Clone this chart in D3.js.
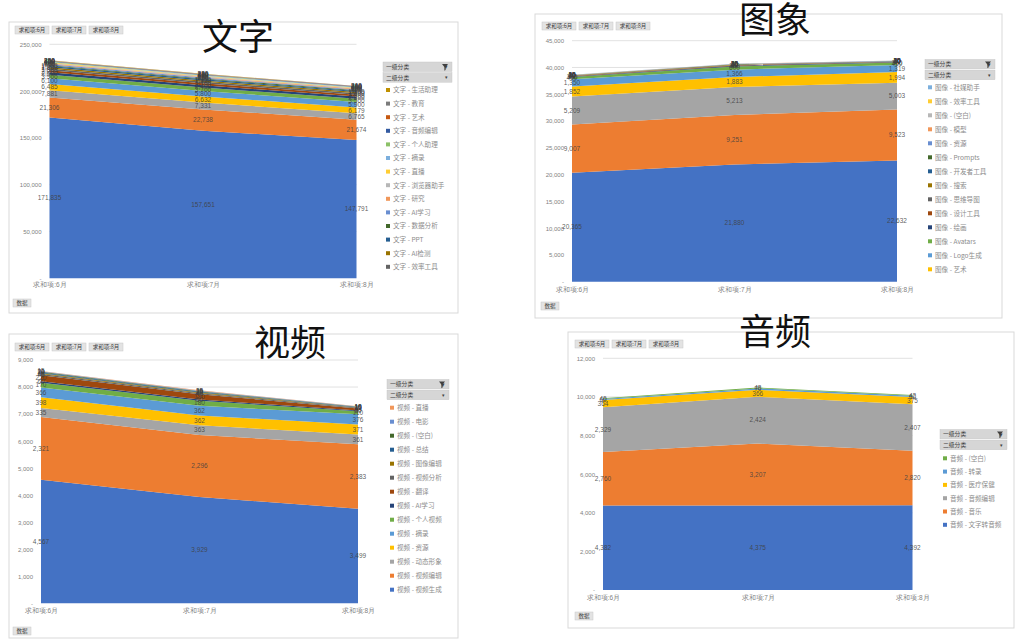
<!DOCTYPE html>
<html><head><meta charset="utf-8">
<script src="https://cdn.jsdelivr.net/npm/d3@7"></script>
<style>
html,body{margin:0;padding:0;background:#fff;}
svg{display:block;font-family:"Noto Sans CJK SC","Noto Sans",sans-serif;}
</style></head>
<body>
<svg id="c" width="1024" height="639"></svg>
<script>
// ---------- DATA ----------
const months = ["求和项:6月", "求和项:7月", "求和项:8月"];

// 文字 (bottom of stack first); only the top 14 are visible in the legend
const textNames = ["文字 - s1", "文字 - s2", "文字 - s3", "文字 - s4", "文字 - s5", "文字 - s6", "文字 - s7", "文字 - s8",
  "文字 - 效率工具", "文字 - AI检测", "文字 - PPT", "文字 - 数据分析", "文字 - AI学习", "文字 - 研究",
  "文字 - 浏览器助手", "文字 - 直播", "文字 - 摘录", "文字 - 个人助理", "文字 - 音频编辑", "文字 - 艺术",
  "文字 - 教育", "文字 - 生活助理"];
const textValues = [
  [171835, 157651, 147791], [21306, 22738, 21674], [7881, 7331, 6765], [6485, 6632, 6179],
  [6100, 5800, 5900], [3900, 3700, 3500], [2500, 2400, 2300], [2200, 2100, 2000],
  [1800, 1700, 1600], [1500, 1400, 1300], [1200, 1150, 1100], [1000, 950, 900],
  [900, 850, 800], [800, 750, 700], [700, 650, 600], [600, 550, 500],
  [500, 480, 450], [450, 420, 400], [400, 380, 350], [350, 330, 300],
  [300, 280, 260], [250, 230, 210]];

// 图象
const imageNames = ["图像 - s1", "图像 - s2", "图像 - s3", "图像 - 艺术", "图像 - Logo生成", "图像 - Avatars",
  "图像 - 绘画", "图像 - 设计工具", "图像 - 思维导图", "图像 - 搜索", "图像 - 开发者工具", "图像 - Prompts",
  "图像 - 资源", "图像 - 模型", "图像 - (空白)", "图像 - 效率工具", "图像 - 社媒助手"];
const imageValues = [
  [20365, 21880, 22632], [9007, 9251, 9523], [5209, 5213, 5003], [1852, 1883, 1994],
  [1350, 1366, 1319], [450, 600, 450], [100, 150, 100], [60, 80, 60], [50, 60, 50],
  [40, 50, 40], [30, 40, 30], [30, 35, 30], [25, 30, 25], [20, 25, 20], [15, 20, 15],
  [10, 15, 10], [10, 10, 10]];

// 视频
const videoNames = ["视频 - 视频生成", "视频 - 视频编辑", "视频 - 动态形象", "视频 - 资源", "视频 - 摘录",
  "视频 - 个人视频", "视频 - AI学习", "视频 - 翻译", "视频 - 视频分析", "视频 - 图像编辑", "视频 - 总结",
  "视频 - (空白)", "视频 - 电影", "视频 - 直播"];
const videoValues = [
  [4567, 3929, 3499], [2321, 2296, 2383], [335, 363, 361], [398, 362, 371], [366, 362, 376],
  [170, 180, 110], [60, 50, 30], [220, 190, 80], [45, 40, 20], [30, 30, 15], [30, 25, 15],
  [20, 20, 10], [20, 20, 10], [15, 15, 10]];

// 音频
const audioNames = ["音频 - 文字转音频", "音频 - 音乐", "音频 - 音频编辑", "音频 - 医疗保健", "音频 - 转录", "音频 - (空白)"];
const audioValues = [[4382, 4375, 4392], [2760, 3207, 2820], [2329, 2424, 2407], [364, 366, 375], [60, 70, 60], [40, 48, 42]];

const yTicksText = [0, 50000, 100000, 150000, 200000, 250000];
const yTicksImage = [0, 5000, 10000, 15000, 20000, 25000, 30000, 35000, 40000, 45000];
const yTicksVideo = [0, 1000, 2000, 3000, 4000, 5000, 6000, 7000, 8000, 9000];
const yTicksAudio = [0, 2000, 4000, 6000, 8000, 10000, 12000];

// ---------- STYLE / LAYOUT ----------
const palette = ["#4472C4", "#ED7D31", "#A5A5A5", "#FFC000", "#5B9BD5", "#70AD47",
  "#264478", "#9E480E", "#636363", "#997300", "#255E91", "#43682B",
  "#698ED0", "#F1975A", "#B7B7B7", "#FFCD33", "#7CAFDD", "#8CC168",
  "#335AA1", "#C65911", "#7B7B7B", "#BF9000", "#327DC2", "#5A8A39"];

const panels = [
  {title: "文字", tx: 238, ty: 50, frame: [9, 22, 449, 291], names: textNames, values: textValues, ticks: yTicksText,
   x0: 49.5, x1: 356.5, yb: 278.3, yt: 44.3, xLabY: 290, btn: [15, 26], dataBtn: [13, 299],
   leg: [383, 62, 69], legStart: 90, legStep: 13.6, legCount: 14},
  {title: "图象", tx: 775, ty: 33, frame: [535, 14, 467, 304], names: imageNames, values: imageValues, ticks: yTicksImage,
   x0: 572, x1: 897, yb: 281.7, yt: 40.7, xLabY: 295, btn: [542, 22], dataBtn: [541, 302],
   leg: [925, 59.5, 70], legStart: 87.3, legStep: 14, legCount: 14},
  {title: "视频", tx: 290, ty: 356, frame: [9, 334, 449, 304], names: videoNames, values: videoValues, ticks: yTicksVideo,
   x0: 41, x1: 358, yb: 603.3, yt: 360, xLabY: 616, btn: [15, 343], dataBtn: [13, 627],
   leg: [387, 379.5, 62], legStart: 407.7, legStep: 14, legCount: 14},
  {title: "音频", tx: 775, ty: 345, frame: [568, 332, 446, 296], names: audioNames, values: audioValues, ticks: yTicksAudio,
   x0: 603, x1: 912.5, yb: 590, yt: 358.3, xLabY: 603, btn: [575, 340], dataBtn: [575, 612],
   leg: [940, 429.5, 67], legStart: 458.3, legStep: 13.3, legCount: 6}
];

const svg = d3.select("#c");
const fmt = d3.format(",");

function drawPanel(p) {
  const g = svg.append("g");
  // frame
  g.append("rect").attr("x", p.frame[0]).attr("y", p.frame[1]).attr("width", p.frame[2]).attr("height", p.frame[3])
    .attr("fill", "#fff").attr("stroke", "#d9d9d9").attr("stroke-width", 1);

  const n = p.names.length;
  const rows = months.map((m, i) => {
    const r = {month: m};
    p.values.forEach((v, k) => r[k] = v[i]);
    return r;
  });
  const keys = d3.range(n);
  const stacked = d3.stack().keys(keys)(rows);

  const x = d3.scalePoint().domain(months).range([p.x0, p.x1]);
  const yMax = p.ticks[p.ticks.length - 1];
  const y = d3.scaleLinear().domain([0, yMax]).range([p.yb, p.yt]);

  // gridlines
  g.append("g").selectAll("line").data(p.ticks.filter(t => t > 0)).join("line")
    .attr("x1", p.x0).attr("x2", p.x1).attr("y1", d => y(d)).attr("y2", d => y(d))
    .attr("stroke", "#d9d9d9").attr("stroke-width", 0.8);

  // y axis labels
  const yAxis = d3.axisLeft(y).tickValues(p.ticks).tickSize(0).tickPadding(8)
    .tickFormat(d => d === 0 ? "-" : fmt(d));
  const ya = g.append("g").attr("transform", `translate(${p.x0},0)`).call(yAxis);
  ya.select(".domain").remove();
  ya.selectAll("text").attr("font-size", 6).attr("fill", "#7f7f7f").attr("font-family", "Liberation Sans, sans-serif");

  // x axis labels
  const xAxis = d3.axisBottom(x).tickSize(0).tickPadding(0);
  const xa = g.append("g").attr("transform", `translate(0,${p.xLabY - 6})`).call(xAxis);
  xa.select(".domain").remove();
  xa.selectAll("text").attr("font-size", 6.5).attr("fill", "#7f7f7f").attr("dy", "0.5em");

  // areas
  const area = d3.area().x(d => x(d.data.month)).y0(d => y(d[0])).y1(d => y(d[1]));
  g.append("g").selectAll("path").data(stacked).join("path")
    .attr("d", area).attr("fill", (d, i) => palette[i % palette.length]);

  // data labels
  const lab = g.append("g").attr("font-size", 6.5).attr("fill", "#404040").attr("text-anchor", "middle")
    .attr("font-family", "Liberation Sans, sans-serif");
  stacked.forEach((s) => {
    s.forEach(d => {
      lab.append("text").attr("x", x(d.data.month)).attr("y", (y(d[0]) + y(d[1])) / 2).attr("dy", "0.35em")
        .attr("fill-opacity", 0.85).text(fmt(d[1] - d[0]));
    });
  });

  // field buttons
  const bw = 34, bh = 8;
  months.forEach((m, i) => {
    const bx = p.btn[0] + i * (bw + 3);
    g.append("rect").attr("x", bx).attr("y", p.btn[1]).attr("width", bw).attr("height", bh)
      .attr("fill", "#e3e3e3").attr("stroke", "#c8c8c8").attr("stroke-width", 0.5);
    g.append("text").attr("x", bx + bw / 2).attr("y", p.btn[1] + bh / 2).attr("dy", "0.35em")
      .attr("text-anchor", "middle").attr("font-size", 5.5).attr("fill", "#404040").text(m);
  });
  g.append("rect").attr("x", p.dataBtn[0]).attr("y", p.dataBtn[1]).attr("width", 18).attr("height", 8)
    .attr("fill", "#e3e3e3").attr("stroke", "#c8c8c8").attr("stroke-width", 0.5);
  g.append("text").attr("x", p.dataBtn[0] + 9).attr("y", p.dataBtn[1] + 4).attr("dy", "0.35em")
    .attr("text-anchor", "middle").attr("font-size", 5.5).attr("fill", "#404040").text("数据");

  // legend headers
  const [lx, ly, lw] = p.leg;
  ["一级分类", "二级分类"].forEach((h, i) => {
    const hy = ly + i * 10.7;
    g.append("rect").attr("x", lx).attr("y", hy).attr("width", lw).attr("height", 9.5)
      .attr("fill", "#d6d6d6").attr("stroke", "#c0c0c0").attr("stroke-width", 0.4);
    g.append("text").attr("x", lx + 3).attr("y", hy + 4.9).attr("dy", "0.35em")
      .attr("font-size", 5.8).attr("fill", "#404040").text(h);
    g.append("text").attr("x", lx + lw - 4).attr("y", hy + 4.9).attr("dy", "0.35em").attr("text-anchor", "end")
      .attr("font-size", i === 0 ? 7 : 5).attr("fill", "#404040").text("▾");
  });
  // filter icon on first header
  g.append("path").attr("d", `M${lx + lw - 10},${ly + 2} h6 l-2.4,3 v3 l-1.2,0.8 v-3.8 z`).attr("fill", "#404040");

  // legend items (top of stack first)
  const items = d3.range(n - 1, n - 1 - p.legCount, -1);
  items.forEach((k, j) => {
    const iy = p.legStart + j * p.legStep;
    g.append("rect").attr("x", lx + 3).attr("y", iy - 2).attr("width", 4).attr("height", 4)
      .attr("fill", palette[k % palette.length]);
    g.append("text").attr("x", lx + 10).attr("y", iy).attr("dy", "0.35em")
      .attr("font-size", 6.6).attr("fill", "#8c8c8c").text(p.names[k]);
  });

  // title
  svg.append("text").attr("x", p.tx).attr("y", p.ty).attr("text-anchor", "middle")
    .attr("font-size", 36).attr("fill", "#111").text(p.title);
}

panels.forEach(drawPanel);
</script>
</body></html>
